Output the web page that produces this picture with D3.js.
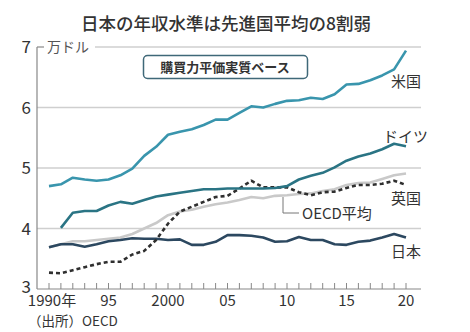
<!DOCTYPE html>
<html>
<head>
<meta charset="utf-8">
<script src="https://cdn.jsdelivr.net/npm/d3@7"></script>
<style>
body { margin: 0; background: #fff; }
text { font-family: "Noto Sans CJK JP", "Noto Sans", sans-serif; fill: #333; }
.num { font-family: "Liberation Sans Narrow", "Noto Sans CJK JP", sans-serif; }
</style>
</head>
<body>
<div id="chart"></div>
<script>
// data (万ドル, PPP)
var years = d3.range(1990, 2021);
var usa = [4.70,4.73,4.84,4.81,4.79,4.81,4.88,4.99,5.20,5.35,5.55,5.60,5.64,5.71,5.80,5.80,5.91,6.02,6.00,6.06,6.11,6.12,6.16,6.14,6.22,6.38,6.39,6.45,6.53,6.63,6.94];
var germany = [null,4.01,4.26,4.29,4.29,4.38,4.44,4.41,4.47,4.53,4.56,4.59,4.62,4.65,4.65,4.66,4.66,4.66,4.66,4.67,4.70,4.81,4.87,4.92,5.01,5.12,5.19,5.24,5.31,5.40,5.36];
var uk = [3.27,3.26,3.31,3.36,3.41,3.45,3.45,3.57,3.63,3.81,4.08,4.28,4.36,4.44,4.52,4.54,4.66,4.79,4.68,4.68,4.68,4.60,4.55,4.60,4.61,4.67,4.72,4.72,4.74,4.79,4.72];
var oecd = [3.69,3.74,3.79,3.79,3.81,3.83,3.85,3.91,4.00,4.09,4.22,4.28,4.31,4.36,4.40,4.43,4.47,4.52,4.50,4.54,4.55,4.57,4.58,4.62,4.65,4.72,4.75,4.76,4.82,4.88,4.91];
var japan = [3.69,3.74,3.74,3.70,3.74,3.79,3.81,3.84,3.83,3.83,3.81,3.82,3.73,3.73,3.78,3.89,3.89,3.88,3.85,3.78,3.79,3.86,3.81,3.81,3.74,3.73,3.78,3.80,3.85,3.91,3.85];
var yTicks = [3, 4, 5, 6, 7];
var xTicks = [1990, 1995, 2000, 2005, 2010, 2015, 2020];
var xTickLabels = ["1990年", "95", "2000", "05", "10", "15", "20"];

var W = 470, H = 332;
var svg = d3.select("#chart").append("svg").attr("width", W).attr("height", H);

var x = d3.scaleLinear().domain([1990, 2020]).range([49, 406]);
var y = d3.scaleLinear().domain([3, 7]).range([289, 47]);
var left = 37, right = 421;

// title
svg.append("text").attr("x", 226).attr("y", 30).attr("text-anchor", "middle")
  .style("font-size", "17.5px").style("font-weight", "500").text("日本の年収水準は先進国平均の8割弱");

// gridlines
svg.append("g").selectAll("line").data(yTicks.filter(function(d){return d > 3 && d < 7;}))
  .enter().append("line")
  .attr("x1", left).attr("x2", right)
  .attr("y1", function(d){return y(d);}).attr("y2", function(d){return y(d);})
  .attr("stroke", "#cfcfcf").attr("stroke-width", 1.5);
svg.append("line").attr("x1", 95).attr("x2", right).attr("y1", y(7)).attr("y2", y(7))
  .attr("stroke", "#cfcfcf").attr("stroke-width", 1.5);
svg.append("line").attr("x1", left).attr("x2", 44).attr("y1", y(7)).attr("y2", y(7))
  .attr("stroke", "#888").attr("stroke-width", 1.2);
svg.append("text").attr("x", 47).attr("y", y(7) + 5).style("font-size", "14px").style("fill", "#555").text("万ドル");

// y axis
svg.append("line").attr("x1", left).attr("x2", left).attr("y1", y(7)).attr("y2", y(3))
  .attr("stroke", "#888").attr("stroke-width", 1.2);
svg.append("g").selectAll("text").data(yTicks).enter().append("text")
  .attr("class", "num").attr("x", 31).attr("y", function(d){return y(d) + (d === 3 ? 4 : 6);})
  .attr("text-anchor", "end").style("font-size", "17px").text(function(d){return d;});

// x axis
svg.append("line").attr("x1", left).attr("x2", right).attr("y1", y(3)).attr("y2", y(3))
  .attr("stroke", "#888").attr("stroke-width", 1.2);
svg.append("g").selectAll("line").data(years).enter().append("line")
  .attr("x1", function(d){return x(d);}).attr("x2", function(d){return x(d);})
  .attr("y1", y(3)).attr("y2", y(3) - 6).attr("stroke", "#888").attr("stroke-width", 1);
svg.append("g").selectAll("text").data(xTicks).enter().append("text")
  .attr("class", "num").attr("x", function(d){return x(d);}).attr("y", 306)
  .attr("text-anchor", "middle").style("font-size", "15px")
  .text(function(d, i){return xTickLabels[i];})
  .attr("dx", function(d, i){return i === 0 ? 3 : 0;});
svg.append("text").attr("x", 28).attr("y", 326).style("font-size", "13.5px").text("（出所）OECD");

// lines
var line = d3.line().defined(function(d){return d != null;})
  .x(function(d, i){return x(years[i]);}).y(function(d){return y(d);});
var series = [
  {vals: oecd, color: "#c9c9c9", dash: null},
  {vals: japan, color: "#2c4860", dash: null},
  {vals: uk, color: "#2f2f2f", dash: "4,3"},
  {vals: germany, color: "#2a7484", dash: null},
  {vals: usa, color: "#3995ad", dash: null}
];
series.forEach(function(s){
  svg.append("path").datum(s.vals).attr("d", line)
    .attr("fill", "none").attr("stroke", s.color).attr("stroke-width", 2.6)
    .attr("stroke-dasharray", s.dash).attr("stroke-linejoin", "round");
});

// labels
svg.append("text").attr("x", 421).attr("y", 87).attr("text-anchor", "end").style("font-size", "15px").text("米国");
svg.append("text").attr("x", 428).attr("y", 142).attr("text-anchor", "end").style("font-size", "15px").text("ドイツ");
svg.append("text").attr("x", 421).attr("y", 204).attr("text-anchor", "end").style("font-size", "15px").text("英国");
svg.append("text").attr("x", 421).attr("y", 257).attr("text-anchor", "end").style("font-size", "15px").text("日本");
svg.append("path").attr("d", "M283,197V213H299").attr("fill", "none").attr("stroke", "#777").attr("stroke-width", 1);
svg.append("text").attr("x", 302).attr("y", 219).style("font-size", "15px").text("OECD平均");

// note box
svg.append("rect").attr("x", 143.5).attr("y", 55.5).attr("width", 164).attr("height", 23).attr("rx", 4)
  .attr("fill", "#fff").attr("stroke", "#3f6878").attr("stroke-width", 1.5);
svg.append("text").attr("x", 225).attr("y", 72).attr("text-anchor", "middle")
  .style("font-size", "13px").style("font-weight", "bold").text("購買力平価実質ベース");
</script>
</body>
</html>
